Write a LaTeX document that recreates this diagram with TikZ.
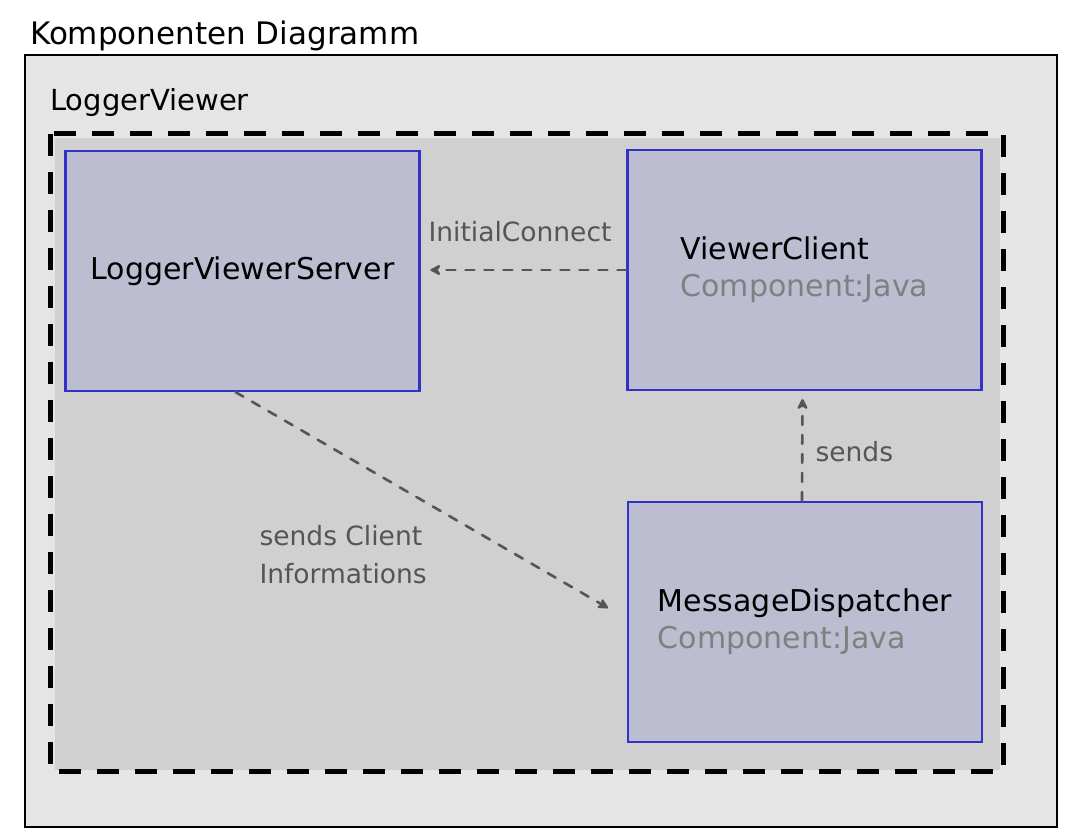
\documentclass[tikz,border=0pt]{standalone}
\usepackage{fontspec}
\setmainfont{DejaVu Sans}
\usetikzlibrary{arrows.meta}
\definecolor{outerfill}{HTML}{E5E5E5}
\definecolor{innerfill}{HTML}{D0D0D0}
\definecolor{compfill}{HTML}{BCBDD0}
\definecolor{compline}{HTML}{3232C8}
\definecolor{flowgray}{HTML}{555555}
\definecolor{stereogray}{HTML}{808080}
\tikzset{
	comp/.style={draw=compline, line width=2.2pt, fill=compfill, minimum width=354pt, minimum height=240pt, align=left, font=\fontsize{30}{37}\selectfont},
	flow/.style={draw=flowgray, line width=2.6pt, line cap=round, dash pattern=on 9pt off 10pt, -{Stealth[length=13pt,width=13pt,round]}},
	flowlabel/.style={text=flowgray, font=\fontsize{26.5}{38}\selectfont, align=left}
}
\begin{document}
\begin{tikzpicture}[x=1pt,y=-1pt]
\useasboundingbox[fill=white] (0,0) rectangle (1077,840);
\draw[fill=outerfill, line width=2pt] (25,55) rectangle (1057,827);
\node[anchor=base west, inner sep=0pt, font=\fontsize{31}{36}\selectfont](title) at (30,45) {Komponenten Diagramm};
\node[anchor=base west, inner sep=0pt, font=\fontsize{29}{34}\selectfont](pkg) at (50,111) {LoggerViewer};
\fill[innerfill] (55,138) rectangle (1000,770);
\draw[line width=5pt, dash pattern=on 22pt off 16pt] (50,134) rectangle (1003,771);
\node[comp](lvs) at (242.5,271) {LoggerViewerServer};
\node[comp](vc) at (804.5,270) {ViewerClient\\\textcolor{stereogray}{Component:Java}};
\node[comp](md) at (805,622) {MessageDispatcher\\\textcolor{stereogray}{Component:Java}};
\draw[flow] (vc.west) -- ++(-196,0) coordinate (vcend);
\node[flowlabel](initial) at (520,232) {InitialConnect};
\draw[flow] ([xshift=-3pt]md.north) -- ([xshift=-2pt,yshift=-8pt]vc.south);
\node[flowlabel, anchor=west](sends) at (812,452) {sends};
\draw[flow] ([xshift=-7pt]lvs.south) -- (608,608) coordinate (mdend);
\node[flowlabel, anchor=west](info) at (256,555) {sends Client\\Informations};
\end{tikzpicture}
\end{document}
